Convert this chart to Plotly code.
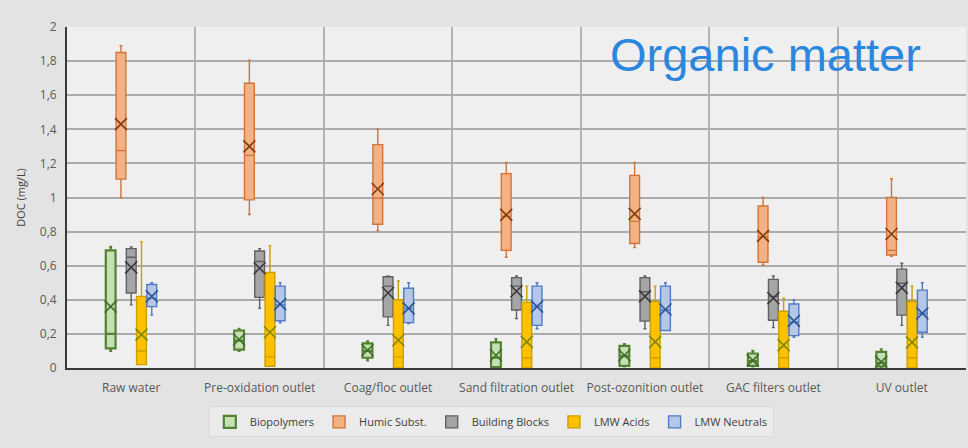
import plotly.graph_objects as go

categories = ["Raw water", "Pre-oxidation outlet", "Coag/floc outlet", "Sand filtration outlet",
              "Post-ozonition outlet", "GAC filters outlet", "UV outlet"]
series_names = ["Biopolymers", "Humic Subst.", "Building Blocks", "LMW Acids", "LMW Neutrals"]

# Box statistics per series (one value per category)
bio_low   = [0.10, 0.10, 0.045, 0.00, 0.01, 0.01, 0.005]
bio_q1    = [0.115, 0.108, 0.06, 0.005, 0.012, 0.012, 0.01]
bio_med   = [0.20, 0.16, 0.10, 0.06, 0.07, 0.04, 0.03]
bio_q3    = [0.69, 0.22, 0.145, 0.15, 0.13, 0.085, 0.095]
bio_high  = [0.71, 0.23, 0.157, 0.17, 0.14, 0.10, 0.11]
bio_mean  = [0.36, 0.167, 0.104, 0.075, 0.075, 0.045, 0.036]

hum_low   = [1.00, 0.90, 0.806, 0.65, 0.706, 0.604, 0.655]
hum_q1    = [1.108, 0.986, 0.843, 0.69, 0.73, 0.62, 0.663]
hum_med   = [1.275, 1.247, 0.996, 0.89, 0.86, 0.77, 0.69]
hum_q3    = [1.85, 1.67, 1.31, 1.14, 1.13, 0.95, 1.00]
hum_high  = [1.89, 1.806, 1.40, 1.206, 1.206, 1.00, 1.11]
hum_mean  = [1.43, 1.30, 1.05, 0.898, 0.904, 0.775, 0.786]

bb_low    = [0.37, 0.35, 0.25, 0.29, 0.23, 0.237, 0.25]
bb_q1     = [0.44, 0.414, 0.30, 0.34, 0.275, 0.28, 0.31]
bb_med    = [0.65, 0.625, 0.48, 0.48, 0.447, 0.42, 0.497]
bb_q3     = [0.70, 0.686, 0.535, 0.53, 0.53, 0.52, 0.58]
bb_high   = [0.71, 0.70, 0.54, 0.54, 0.54, 0.54, 0.614]
bb_mean   = [0.59, 0.585, 0.44, 0.45, 0.42, 0.41, 0.47]

ac_low    = [0.02, 0.01, 0.0, 0.0, 0.0, 0.0, 0.0]
ac_q1     = [0.02, 0.01, 0.0, 0.0, 0.0, 0.0, 0.0]
ac_med    = [0.10, 0.065, 0.065, 0.06, 0.06, 0.06, 0.06]
ac_q3     = [0.42, 0.56, 0.40, 0.385, 0.39, 0.333, 0.39]
ac_high   = [0.74, 0.716, 0.51, 0.48, 0.48, 0.41, 0.48]
ac_mean   = [0.196, 0.21, 0.163, 0.153, 0.153, 0.134, 0.15]

ne_low    = [0.31, 0.265, 0.26, 0.23, 0.22, 0.18, 0.18]
ne_q1     = [0.36, 0.277, 0.266, 0.25, 0.22, 0.19, 0.21]
ne_med    = [0.41, 0.37, 0.35, 0.36, 0.34, 0.27, 0.32]
ne_q3     = [0.49, 0.48, 0.468, 0.48, 0.48, 0.375, 0.457]
ne_high   = [0.50, 0.50, 0.50, 0.50, 0.50, 0.40, 0.50]
ne_mean   = [0.42, 0.375, 0.35, 0.36, 0.343, 0.276, 0.32]

y_ticks = [0, 0.2, 0.4, 0.6, 0.8, 1.0, 1.2, 1.4, 1.6, 1.8, 2.0]

stats = [
    (bio_low, bio_q1, bio_med, bio_q3, bio_high, bio_mean),
    (hum_low, hum_q1, hum_med, hum_q3, hum_high, hum_mean),
    (bb_low, bb_q1, bb_med, bb_q3, bb_high, bb_mean),
    (ac_low, ac_q1, ac_med, ac_q3, ac_high, ac_mean),
    (ne_low, ne_q1, ne_med, ne_q3, ne_high, ne_mean),
]
fills = ["#c5e0b4", "#f4b183", "#a5a5a5", "#ffc000", "#b4c7e7"]
lines = ["#548235", "#d0753a", "#606060", "#c9a000", "#4f7ac8"]
line_w = [2.2, 1.4, 1.4, 1.4, 1.4]
mean_col = ["#3f6f28", "#843c0c", "#3a3a3a", "#7f8a10", "#2f5597"]

step = 0.08
bw = 0.076
fig = go.Figure()
for k, name in enumerate(series_names):
    lo, q1, md, q3, hi, mn = stats[k]
    xs = [i + (k - 2) * step for i in range(len(categories))]
    fig.add_trace(go.Box(
        name=name, x=xs, lowerfence=lo, q1=q1, median=md, q3=q3, upperfence=hi,
        width=bw, whiskerwidth=0.3, boxpoints=False,
        fillcolor=fills[k], line=dict(color=lines[k], width=line_w[k]),
        hoverinfo="skip", legendrank=k,
    ))
    fig.add_trace(go.Scatter(
        x=xs, y=mn, mode="markers", showlegend=False, hoverinfo="skip",
        marker=dict(symbol="x-thin-open", size=12, color=mean_col[k],
                    line=dict(color=mean_col[k], width=1.6)),
    ))

fig.update_layout(
    width=968, height=448,
    margin=dict(l=67, r=2, t=27, b=80),
    paper_bgcolor="#e3e3e3", plot_bgcolor="#efefef",
    separators=",.",
    boxmode="overlay",
    font=dict(family="Open Sans, Liberation Sans, sans-serif", size=12, color="#595959"),
    showlegend=True,
    legend=dict(orientation="h", x=0.472, xanchor="center", y=-0.158, yanchor="middle",
                bgcolor="#ebebeb", bordercolor="#dadada", borderwidth=1,
                font=dict(size=11, color="#404040"), itemwidth=30, traceorder="normal"),
    annotations=[dict(text="Organic matter", xref="paper", yref="paper", x=0.952, y=0.918,
                      xanchor="right", yanchor="middle", showarrow=False,
                      font=dict(family="Liberation Sans, Arial, sans-serif", size=47, color="#2a86de"))],
)
fig.update_xaxes(
    range=[-0.5, len(categories) - 0.5],
    tickvals=list(range(len(categories))), ticktext=categories,
    showgrid=False, zeroline=False,
    showline=True, linecolor="#3a3a3a", linewidth=2,
    ticks="outside", ticklen=8, tickcolor="rgba(0,0,0,0)",
    tickfont=dict(size=12, color="#595959"),
    minor=dict(tickvals=[i + 0.5 for i in range(len(categories) - 1)], showgrid=True,
               gridcolor="#b4b4b4", gridwidth=1.5, ticks=""),
)
fig.update_yaxes(
    range=[0, 2], tickvals=y_ticks,
    showgrid=True, gridcolor="#ababab", gridwidth=1.5, zeroline=False,
    showline=True, linecolor="#3a3a3a", linewidth=2,
    ticks="outside", ticklen=6, tickcolor="rgba(0,0,0,0)",
    tickfont=dict(size=12, color="#595959"),
    title=dict(text="DOC (mg/L)", font=dict(size=11, color="#404040"), standoff=12),
)

fig.write_html("out.html", config={"displayModeBar": False},
               post_script="document.body.style.margin='0';document.body.style.background='#e3e3e3';")
